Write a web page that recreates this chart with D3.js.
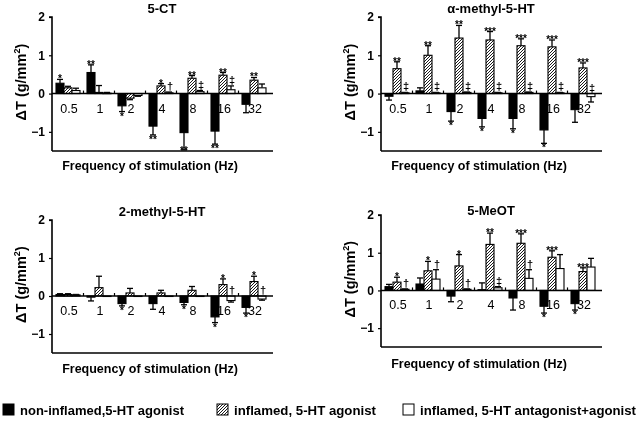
<!DOCTYPE html>
<html>
<head>
<meta charset="utf-8">
<script src="https://cdn.jsdelivr.net/npm/d3@7"></script>
<style>
  body { margin: 0; background: #fff; }
  svg { font-family: "Liberation Sans", Arial, sans-serif; font-weight: bold; will-change: transform; }
</style>
</head>
<body>
<div id="chart"></div>
<script>
// frequencies and series
const freqs = ["0.5", "1", "2", "4", "8", "16", "32"];
const seriesNames = ["non-inflamed,5-HT agonist", "inflamed, 5-HT agonist", "inflamed, 5-HT antagonist+agonist"];
const yTicks = [2, 1, 0, -1];

// 5-CT
const ctBlack = [0.27, 0.55, -0.32, -0.85, -1.02, -0.98, -0.28];
const ctBlackErr = [0.1, 0.2, 0.15, 0.23, 0.45, 0.34, 0.22];
const ctBlackSig = ["*", "**", "*", "**", "**", "**", ""];
const ctHatch = [0.15, 0.03, -0.12, 0.2, 0.4, 0.48, 0.35];
const ctHatchErr = [0.04, 0.18, 0.04, 0.06, 0.07, 0.07, 0.07];
const ctHatchSig = ["", "", "", "*", "**", "**", "**"];
const ctWhite = [0.08, 0.01, -0.05, 0.02, 0.05, 0.1, 0.15];
const ctWhiteErr = [0.06, 0.02, 0.02, 0.02, 0.03, 0.1, 0.1];
const ctWhiteSig = ["", "", "", "†", "‡", "‡", ""];

// alpha-methyl-5-HT
const amBlack = [-0.07, 0.07, -0.47, -0.65, -0.65, -0.95, -0.42];
const amBlackErr = [0.1, 0.08, 0.25, 0.22, 0.27, 0.35, 0.33];
const amBlackSig = ["", "", "*", "*", "*", "*", ""];
const amHatch = [0.65, 1.0, 1.45, 1.4, 1.25, 1.22, 0.67];
const amHatchErr = [0.18, 0.25, 0.33, 0.22, 0.18, 0.18, 0.13];
const amHatchSig = ["**", "**", "**", "***", "***", "***", "***"];
const amWhite = [0.02, 0.02, 0.03, 0.02, 0.03, 0.02, -0.08];
const amWhiteErr = [0.01, 0.01, 0.01, 0.01, 0.01, 0.01, 0.14];
const amWhiteSig = ["‡", "‡", "‡", "‡", "‡", "‡", "‡"];

// 2-methyl-5-HT
const tmBlack = [0.04, -0.03, -0.2, -0.2, -0.17, -0.55, -0.3];
const tmBlackErr = [0.02, 0.1, 0.06, 0.15, 0.06, 0.15, 0.15];
const tmBlackSig = ["", "", "*", "", "*", "*", "*"];
const tmHatch = [0.04, 0.22, 0.08, 0.08, 0.15, 0.3, 0.38];
const tmHatchErr = [0.02, 0.3, 0.12, 0.07, 0.1, 0.15, 0.14];
const tmHatchSig = ["", "", "", "", "", "*", "*"];
const tmWhite = [0.03, 0.0, 0.0, 0.0, 0.0, -0.12, -0.08];
const tmWhiteErr = [0.01, 0.0, 0.0, 0.0, 0.0, 0.04, 0.03];
const tmWhiteSig = ["", "", "", "", "", "†", "†"];

// 5-MeOT
const moBlack = [0.1, 0.17, -0.15, 0.02, -0.2, -0.42, -0.35];
const moBlackErr = [0.06, 0.16, 0.15, 0.18, 0.32, 0.18, 0.17];
const moBlackSig = ["", "", "", "", "", "*", "*"];
const moHatch = [0.22, 0.52, 0.65, 1.22, 1.25, 0.88, 0.5];
const moHatchErr = [0.13, 0.25, 0.3, 0.3, 0.25, 0.17, 0.1];
const moHatchSig = ["*", "*", "*", "**", "***", "***", "***"];
const moWhite = [0.03, 0.3, 0.03, 0.07, 0.32, 0.58, 0.62];
const moWhiteErr = [0.01, 0.25, 0.01, 0.03, 0.23, 0.37, 0.23];
const moWhiteSig = ["†", "†", "†", "‡", "†", "", ""];

const panels = [
  { title: "5-CT", x0: 52, yTop: 17, yBot: 151, titleY: 13, xlabY: 170,
    vals: [ctBlack, ctHatch, ctWhite], errs: [ctBlackErr, ctHatchErr, ctWhiteErr], sigs: [ctBlackSig, ctHatchSig, ctWhiteSig] },
  { title: "α-methyl-5-HT", x0: 381, yTop: 17, yBot: 151, titleY: 13, xlabY: 170,
    vals: [amBlack, amHatch, amWhite], errs: [amBlackErr, amHatchErr, amWhiteErr], sigs: [amBlackSig, amHatchSig, amWhiteSig] },
  { title: "2-methyl-5-HT", x0: 52, yTop: 220, yBot: 353, titleY: 216, xlabY: 373,
    vals: [tmBlack, tmHatch, tmWhite], errs: [tmBlackErr, tmHatchErr, tmWhiteErr], sigs: [tmBlackSig, tmHatchSig, tmWhiteSig] },
  { title: "5-MeOT", x0: 381, yTop: 215, yBot: 347, titleY: 215, xlabY: 368,
    vals: [moBlack, moHatch, moWhite], errs: [moBlackErr, moHatchErr, moWhiteErr], sigs: [moBlackSig, moHatchSig, moWhiteSig] }
];

const svg = d3.select("#chart").append("svg")
  .attr("width", 640).attr("height", 421);

const defs = svg.append("defs");
const pat = defs.append("pattern")
  .attr("id", "hatch").attr("patternUnits", "userSpaceOnUse")
  .attr("width", 3).attr("height", 3);
pat.append("rect").attr("width", 3).attr("height", 3).attr("fill", "#fff");
pat.append("path").attr("d", "M-1,1 l2,-2 M0,3 l3,-3 M2,4 l2,-2")
  .attr("stroke", "#000").attr("stroke-width", 0.9);

const fills = ["#000", "url(#hatch)", "#fff"];

panels.forEach(p => {
  const g = svg.append("g");
  const y = d3.scaleLinear().domain([-1.5, 2]).range([p.yBot, p.yTop]);
  const x = d3.scaleBand().domain(freqs)
    .range([p.x0 + 4, p.x0 + 214]).paddingInner(0.226).paddingOuter(0);
  const xs = d3.scaleBand().domain([0, 1, 2]).range([0, x.bandwidth()]);
  const xEnd = p.x0 + 221;
  const y0 = y(0);

  // y axis
  const yAxis = d3.axisLeft(y).tickValues(yTicks).tickSize(3).tickFormat(d3.format("d"));
  const ya = g.append("g").attr("transform", `translate(${p.x0},0)`).call(yAxis);
  ya.select(".domain").attr("stroke-width", 1.6).attr("d", `M-3,${p.yTop}H0V${p.yBot}`);
  ya.selectAll(".tick line").attr("stroke-width", 1.2);
  ya.selectAll(".tick text").attr("font-size", 12).attr("font-weight", "bold")
    .attr("font-family", "Liberation Sans, Arial, sans-serif").attr("x", -7);

  // bottom line
  g.append("line").attr("x1", p.x0).attr("x2", xEnd).attr("y1", p.yBot).attr("y2", p.yBot)
    .attr("stroke", "#000").attr("stroke-width", 1.6);

  // bars
  p.vals.forEach((vals, s) => {
    vals.forEach((v, i) => {
      const bx = x(freqs[i]) + xs(s);
      const bw = xs.bandwidth();
      const yv = y(v);
      const e = p.errs[s][i];
      const ye = Math.min(y(v + Math.sign(v || 1) * e), p.yBot);
      // error bar
      if (e > 0) {
        g.append("line").attr("x1", bx + bw / 2).attr("x2", bx + bw / 2)
          .attr("y1", yv).attr("y2", ye).attr("stroke", "#000").attr("stroke-width", 1.3);
        g.append("line").attr("x1", bx + 1).attr("x2", bx + bw - 1)
          .attr("y1", ye).attr("y2", ye).attr("stroke", "#000").attr("stroke-width", 1.3);
      }
      g.append("rect").attr("x", bx).attr("width", bw)
        .attr("y", Math.min(yv, y0)).attr("height", Math.max(Math.abs(yv - y0), 0.5))
        .attr("fill", fills[s]).attr("stroke", "#000").attr("stroke-width", 1.1);
      const sig = p.sigs[s][i];
      if (sig) {
        const up = v >= 0 || s === 2;
        const isStar = sig.indexOf("*") >= 0;
        let ty = up ? Math.min(ye, yv, y0) - 2 + (isStar ? 5 : 0) : Math.min(ye + 8, p.yBot + 3);
        g.append("text").attr("x", bx + bw / 2 + (s === 2 ? 1 : 0)).attr("y", ty)
          .attr("text-anchor", "middle").attr("font-size", isStar ? 10 : 11)
          .attr("font-weight", "bold").text(sig);
      }
    });
  });

  // zero line on top
  g.append("line").attr("x1", p.x0).attr("x2", xEnd).attr("y1", y0).attr("y2", y0)
    .attr("stroke", "#000").attr("stroke-width", 1.6);
  // small ticks between groups
  freqs.slice(1).forEach(f => {
    const tx = x(f) - x.step() * x.paddingInner() / 2;
    g.append("line").attr("x1", tx).attr("x2", tx).attr("y1", y0).attr("y2", y0 - 3)
      .attr("stroke", "#000").attr("stroke-width", 1.2);
  });

  // group labels
  freqs.forEach(f => {
    g.append("text").attr("x", x(f) + x.bandwidth() / 2 + 1).attr("y", y0 + 19)
      .attr("text-anchor", "middle").attr("font-size", 12.5).attr("font-weight", "normal")
      .attr("font-family", "Liberation Sans, Arial, sans-serif").text(f);
  });

  // title
  g.append("text").attr("x", p.x0 + 110).attr("y", p.titleY)
    .attr("text-anchor", "middle").attr("font-size", 13).text(p.title);
  // x label
  g.append("text").attr("x", p.x0 + 98).attr("y", p.xlabY)
    .attr("text-anchor", "middle").attr("font-size", 12.5).text("Frequency of stimulation (Hz)");
  // y label
  const yl = g.append("text")
    .attr("transform", `translate(${p.x0 - 26},${y(0.3)}) rotate(-90)`)
    .attr("text-anchor", "middle").attr("font-size", 14.5);
  yl.append("tspan").text("ΔT (g/mm");
  yl.append("tspan").attr("font-size", 9).attr("dy", -6).text("2");
  yl.append("tspan").attr("dy", 6).text(")");
});

// legend
const legX = [3, 217, 403];
const legW = [164, 142, 216];
seriesNames.forEach((name, s) => {
  svg.append("rect").attr("x", legX[s]).attr("y", 404).attr("width", 11).attr("height", 11)
    .attr("fill", fills[s]).attr("stroke", "#000").attr("stroke-width", 1);
  svg.append("text").attr("x", legX[s] + 17).attr("y", 414.5)
    .attr("font-size", 13.5).attr("font-weight", "bold")
    .attr("font-family", "Liberation Sans, Arial, sans-serif")
    .attr("textLength", legW[s]).attr("lengthAdjust", "spacingAndGlyphs")
    .text(name);
});
</script>
</body>
</html>
